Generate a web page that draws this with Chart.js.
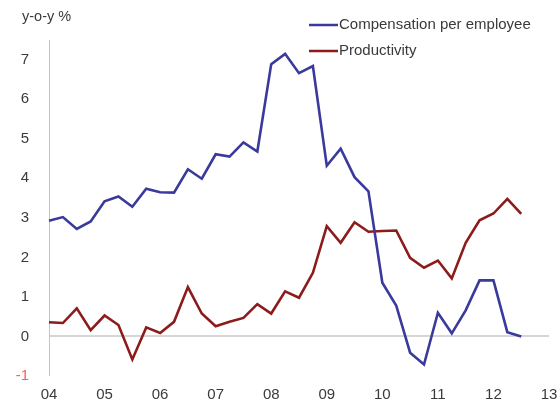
<!DOCTYPE html>
<html>
<head>
<meta charset="utf-8">
<script src="https://cdn.jsdelivr.net/npm/chart.js@4.4.1/dist/chart.umd.min.js"></script>
<style>
  html, body { margin: 0; padding: 0; background: #ffffff; }
  #wrap { width: 560px; height: 403px; }
</style>
</head>
<body>
<div id="wrap"><canvas id="c" width="560" height="403"></canvas></div>
<script>
// ---- data ----
const yearLabels = ['04', '05', '06', '07', '08', '09', '10', '11', '12', '13'];
const quarterNames = ['Q1', 'Q2', 'Q3', 'Q4'];
const compensation = [2.93, 3.02, 2.72, 2.91, 3.42, 3.54, 3.28, 3.74, 3.65, 3.64,
  4.23, 3.99, 4.61, 4.55, 4.91, 4.68, 6.89, 7.15, 6.66, 6.84,
  4.32, 4.75, 4.03, 3.67, 1.36, 0.78, -0.41, -0.71, 0.60, 0.08,
  0.66, 1.42, 1.42, 0.11, 0.00];
const productivity = [0.36, 0.34, 0.71, 0.16, 0.53, 0.29, -0.58, 0.23, 0.09, 0.37,
  1.25, 0.58, 0.26, 0.37, 0.47, 0.82, 0.58, 1.14, 0.98, 1.61,
  2.79, 2.37, 2.89, 2.65, 2.67, 2.68, 1.99, 1.74, 1.92, 1.47,
  2.37, 2.94, 3.11, 3.48, 3.10];
const yTicks = [-1, 0, 1, 2, 3, 4, 5, 6, 7];
const axisTitle = 'y-o-y %';
const seriesNames = ['Compensation per employee', 'Productivity'];

// category labels: each quarter from 2004 Q1 to 2013 Q1
const categories = [];
yearLabels.forEach((y, yi) => {
  quarterNames.forEach((q, qi) => {
    if (yi < yearLabels.length - 1 || qi === 0) categories.push(y + ' ' + q);
  });
});

const FONT = "'Liberation Sans', Arial, sans-serif";
const TEXT = '#3a3a3a';
const BLUE = '#3a3a9c';
const RED = '#8c1c1c';

const overlay = {
  id: 'overlay',
  afterDraw(chart) {
    const ctx = chart.ctx;
    ctx.save();
    ctx.fillStyle = TEXT;
    ctx.font = '14.5px ' + FONT;
    ctx.textBaseline = 'middle';
    ctx.textAlign = 'left';
    ctx.fillText(axisTitle, 22, 17);
    // legend
    const items = chart.data.datasets;
    items.forEach((ds, i) => {
      const y = 25 + i * 26;
      ctx.strokeStyle = ds.borderColor;
      ctx.lineWidth = 2.5;
      ctx.beginPath();
      ctx.moveTo(309, y);
      ctx.lineTo(338, y);
      ctx.stroke();
      ctx.fillStyle = TEXT;
      ctx.font = '15px ' + FONT;
      ctx.fillText(ds.label, 339, y);
    });
    ctx.restore();
  }
};

new Chart(document.getElementById('c'), {
  type: 'line',
  data: {
    labels: categories,
    datasets: [
      { label: seriesNames[0], data: compensation, borderColor: BLUE, borderWidth: 2.6,
        pointRadius: 0, tension: 0, fill: false },
      { label: seriesNames[1], data: productivity, borderColor: RED, borderWidth: 2.6,
        pointRadius: 0, tension: 0, fill: false }
    ]
  },
  options: {
    responsive: false,
    animation: false,
    devicePixelRatio: 1,
    layout: { padding: { top: 40, right: 11, left: 0, bottom: 0 } },
    plugins: { legend: { display: false }, tooltip: { enabled: false }, title: { display: false } },
    scales: {
      x: {
        type: 'category',
        offset: false,
        grid: { display: false, drawTicks: false },
        border: { display: false },
        ticks: {
          autoSkip: false, maxRotation: 0, minRotation: 0,
          padding: 10,
          color: TEXT,
          font: { size: 15, family: FONT },
          callback: function (v, i) { return i % 4 === 0 ? yearLabels[i / 4] : ''; }
        },
        afterFit: s => { s.height = 27; s.paddingLeft = 0; s.paddingRight = 0; }
      },
      y: {
        min: -1, max: 7.5,
        afterBuildTicks: s => { s.ticks = yTicks.map(v => ({ value: v })); },
        grid: {
          drawTicks: false,
          color: c => (c.tick && c.tick.value === 0) ? '#d6d6d6' : 'rgba(0,0,0,0)',
          lineWidth: c => (c.tick && c.tick.value === 0) ? 2 : 0
        },
        border: { display: true, color: '#c4c4c4', width: 1 },
        ticks: {
          padding: 20,
          includeBounds: false,
          color: c => c.tick.value === -1 ? '#ff5a5a' : TEXT,
          font: { size: 15, family: FONT }
        },
        afterFit: s => { s.width = 49; s.paddingTop = 0; s.paddingBottom = 0; }
      }
    }
  },
  plugins: [overlay]
});
</script>
</body>
</html>
